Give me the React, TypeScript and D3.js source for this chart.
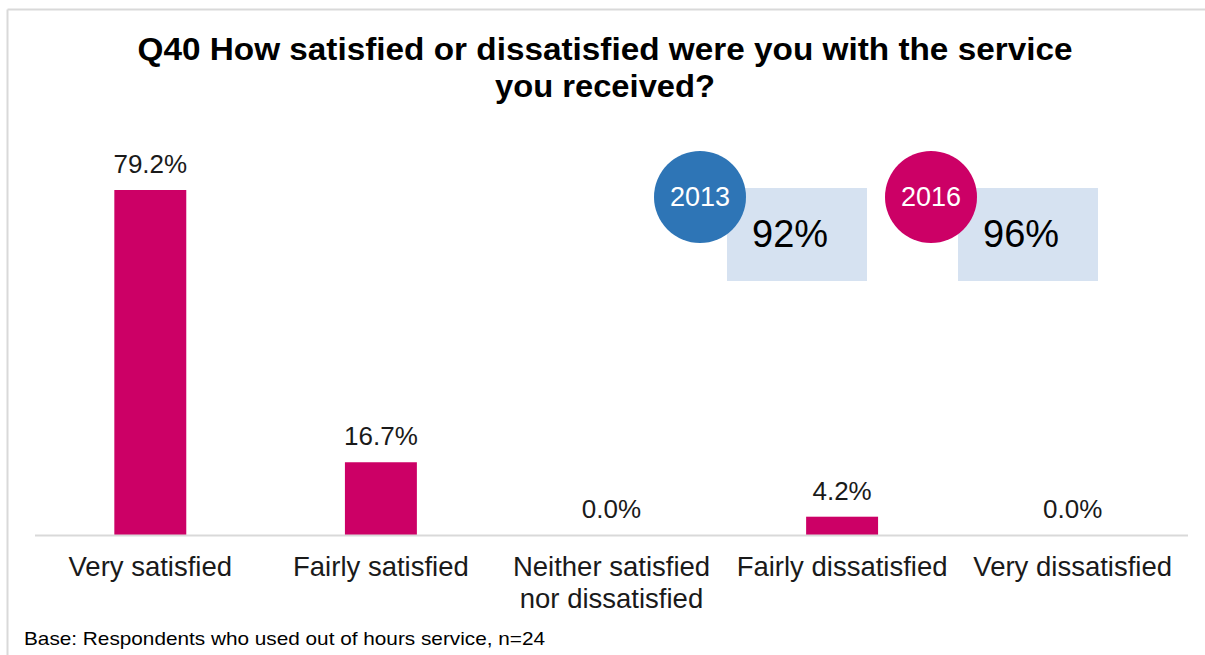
import React from "react";
import * as d3 from "d3";

const categories: string[][] = [
  ["Very satisfied"],
  ["Fairly satisfied"],
  ["Neither satisfied", "nor dissatisfied"],
  ["Fairly dissatisfied"],
  ["Very dissatisfied"],
];
const values2016: number[] = [79.2, 16.7, 0.0, 4.2, 0.0];
const titleLines: string[] = [
  "Q40 How satisfied or dissatisfied were you with the service",
  "you received?",
];
const badgeYears: string[] = ["2013", "2016"];
const badgeValues: string[] = ["92%", "96%"];
const footnote = "Base: Respondents who used out of hours service, n=24";

const W = 1205;
const H = 655;
const FONT = "'Liberation Sans', Arial, sans-serif";
const MAGENTA = "#CC0066";
const BLUE = "#2E75B6";
const PALE = "#D6E2F1";

export default function App() {
  const x = d3
    .scaleBand<number>()
    .domain(d3.range(categories.length))
    .range([35, 1188])
    .paddingInner(0.688)
    .paddingOuter(0.344);
  const y = d3.scaleLinear().domain([0, 79.2]).range([535, 190]);

  const badgeX = d3.scaleOrdinal<string, number>().domain(badgeYears).range([700, 931]);

  return (
    <svg
      width={W}
      height={H}
      style={{ position: "absolute", left: 0, top: 0, display: "block" }}
      fontFamily={FONT}
    >
      <rect x={0} y={0} width={W} height={H} fill="#fff" />
      {/* frame */}
      <line x1={7.5} y1={9.5} x2={W} y2={9.5} stroke="#d9d9d9" strokeWidth={2} />
      <line x1={7.5} y1={9.5} x2={7.5} y2={H} stroke="#d9d9d9" strokeWidth={2} />

      {/* title */}
      {titleLines.map((t, i) => (
        <text
          key={i}
          x={605}
          y={60 + i * 37}
          textAnchor="middle"
          fontSize={32}
          fontWeight="bold"
          fill="#000"
          textLength={i === 0 ? 935 : 220}
          lengthAdjust="spacingAndGlyphs"
        >
          {t}
        </text>
      ))}

      {/* bars */}
      {values2016.map((v, i) => (
        <g key={i}>
          {v > 0 && (
            <rect
              x={x(i)!}
              y={y(v)}
              width={x.bandwidth()}
              height={y(0) - y(v)}
              fill={MAGENTA}
            />
          )}
          <text
            x={x(i)! + x.bandwidth() / 2}
            y={y(v) - 17}
            textAnchor="middle"
            fontSize={26}
            fill="#1a1a1a"
          >
            {v.toFixed(1) + "%"}
          </text>
        </g>
      ))}

      {/* axis */}
      <line x1={35} y1={535.5} x2={1188} y2={535.5} stroke="#d9d9d9" strokeWidth={2} />

      {categories.map((lines, i) => (
        <text
          key={i}
          x={x(i)! + x.bandwidth() / 2}
          y={576}
          textAnchor="middle"
          fontSize={27.5}
          fill="#1a1a1a"
        >
          {lines.map((l, j) => (
            <tspan key={j} x={x(i)! + x.bandwidth() / 2} dy={j === 0 ? 0 : 32}>
              {l}
            </tspan>
          ))}
        </text>
      ))}

      {/* badges */}
      {badgeYears.map((yr, i) => {
        const cx = badgeX(yr);
        const col = i === 0 ? BLUE : MAGENTA;
        return (
          <g key={yr}>
            <rect x={cx + 27} y={188} width={140} height={93} fill={PALE} />
            <circle cx={cx} cy={197} r={46} fill={col} />
            <text x={cx} y={206} textAnchor="middle" fontSize={27} fill="#fff">
              {yr}
            </text>
            <text x={cx + 52} y={247} fontSize={38} fill="#000">
              {badgeValues[i]}
            </text>
          </g>
        );
      })}

      {/* footnote */}
      <text
        x={24}
        y={645}
        fontSize={19}
        fill="#000"
        textLength={521}
        lengthAdjust="spacingAndGlyphs"
      >
        {footnote}
      </text>
    </svg>
  );
}
